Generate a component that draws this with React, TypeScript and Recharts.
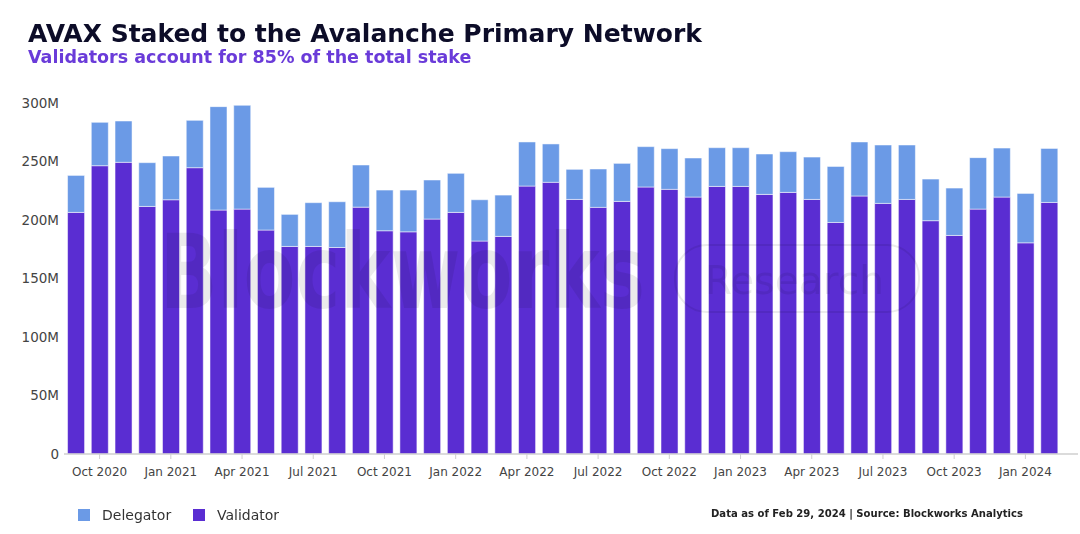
import { Bar, BarChart, XAxis, YAxis } from "recharts"

const months = [
  "Sep 2020", "Oct 2020", "Nov 2020", "Dec 2020", "Jan 2021", "Feb 2021", "Mar 2021", "Apr 2021",
  "May 2021", "Jun 2021", "Jul 2021", "Aug 2021", "Sep 2021", "Oct 2021", "Nov 2021", "Dec 2021",
  "Jan 2022", "Feb 2022", "Mar 2022", "Apr 2022", "May 2022", "Jun 2022", "Jul 2022", "Aug 2022",
  "Sep 2022", "Oct 2022", "Nov 2022", "Dec 2022", "Jan 2023", "Feb 2023", "Mar 2023", "Apr 2023",
  "May 2023", "Jun 2023", "Jul 2023", "Aug 2023", "Sep 2023", "Oct 2023", "Nov 2023", "Dec 2023",
  "Jan 2024", "Feb 2024",
]

// millions of AVAX
const validator = [
  206.5, 246.4, 249.3, 211.6, 217.3, 244.7, 208.5, 209.3, 191.4, 177.4, 177.4, 176.5, 211.0, 190.8,
  189.9, 200.8, 206.5, 182.0, 186.0, 229.0, 232.2, 217.6, 210.8, 215.9, 228.2, 226.2, 219.6, 228.7,
  228.7, 221.9, 223.6, 217.6, 197.9, 220.5, 214.2, 217.6, 199.4, 186.8, 209.3, 219.6, 180.5, 215.0,
]

const delegator = [
  31.6, 37.1, 35.3, 37.4, 37.4, 40.5, 88.4, 88.7, 36.5, 27.4, 37.4, 39.1, 36.0, 34.8,
  35.7, 33.4, 33.4, 35.3, 35.3, 37.7, 32.8, 25.7, 32.8, 32.5, 34.5, 34.8, 33.4, 33.1,
  33.1, 34.5, 34.8, 36.2, 47.9, 46.2, 49.9, 46.5, 35.6, 40.5, 44.0, 41.9, 42.2, 46.2,
]

const yTicks = [0, 50, 100, 150, 200, 250, 300]
const shownMonths = ["Jan", "Apr", "Jul", "Oct"]

const C = {
  validator: "#5a2dd2",
  delegator: "#6b9ae6",
  title: "#0c0c28",
  subtitle: "#6a3bd9",
  text: "#444",
  axis: "#cfcfcf",
}

const data = months.map((m, i) => ({ month: m, Validator: validator[i], Delegator: delegator[i] }))

const font = "'DejaVu Sans', Verdana, sans-serif"

function MonthTick(props: any) {
  const { x, y, payload } = props
  const label: string = payload.value
  if (!shownMonths.includes(label.slice(0, 3))) return null
  const axisY = y - 5
  return (
    <g>
      <line x1={x} x2={x} y1={axisY} y2={axisY + 5} stroke={C.axis} />
      <text x={x} y={axisY + 22} textAnchor="middle" fill={C.text} fontSize={12} fontFamily={font}>
        {label}
      </text>
    </g>
  )
}

const legendItems = [
  { name: "Delegator", color: C.delegator, x: 78 },
  { name: "Validator", color: C.validator, x: 193 },
]

export default function App() {
  return (
    <div style={{ position: "absolute", left: 0, top: 0, width: 1080, height: 534, background: "#fff" }}>
      <BarChart
        width={1080}
        height={534}
        data={data}
        margin={{ top: 103, right: 2, bottom: 50, left: 0 }}
        barCategoryGap="15%"
      >
        <XAxis
          dataKey="month"
          height={30}
          interval={0}
          padding={{ left: 0, right: 17 }}
          tickLine={false}
          tickSize={5}
          tickMargin={0}
          axisLine={{ stroke: C.axis, strokeWidth: 1.5 }}
          tick={<MonthTick />}
        />
        <YAxis
          width={64}
          domain={[0, 300]}
          ticks={yTicks}
          axisLine={false}
          tickLine={false}
          tickSize={0}
          tickMargin={5}
          tickFormatter={(v: number) => (v === 0 ? "0" : `${v}M`)}
          tick={{ fill: C.text, fontSize: 13.5, fontFamily: font }}
        />
        <Bar dataKey="Validator" stackId="s" fill={C.validator} stroke="#fff" strokeWidth={0.5} isAnimationActive={false} />
        <Bar dataKey="Delegator" stackId="s" fill={C.delegator} stroke="#fff" strokeWidth={0.5} isAnimationActive={false} />
      </BarChart>
      <svg
        width={1080}
        height={534}
        style={{ position: "absolute", left: 0, top: 0, pointerEvents: "none" }}
      >
        {/* faint watermark */}
        <g opacity={0.08} fill="#000">
          <text transform="translate(160,308) scale(0.727,1)" fontSize={104} fontWeight="bold" fontFamily={font}>
            Blockworks
          </text>
          <rect x={675} y={245} width={244} height={67} rx={32} fill="none" stroke="#000" strokeWidth={2} />
          <text x={705} y={294} fontSize={39} fontFamily={font}>
            Research
          </text>
        </g>
        <text x={28} y={42} fontSize={25} fontWeight="bold" fill={C.title} fontFamily={font}>
          AVAX Staked to the Avalanche Primary Network
        </text>
        <text x={28} y={63} fontSize={17.5} fontWeight="bold" fill={C.subtitle} fontFamily={font}>
          Validators account for 85% of the total stake
        </text>
        {legendItems.map((it) => (
          <g key={it.name}>
            <rect x={it.x} y={509} width={12} height={12} fill={it.color} />
            <text x={it.x + 24} y={520} fontSize={14} fill="#333" fontFamily={font}>
              {it.name}
            </text>
          </g>
        ))}
        <text
          x={711}
          y={517}
          fontSize={11}
          fontWeight="bold"
          fill="#222"
          fontFamily={font}
          textLength={312}
          lengthAdjust="spacingAndGlyphs"
        >
          Data as of Feb 29, 2024 | Source: Blockworks Analytics
        </text>
      </svg>
    </div>
  )
}
